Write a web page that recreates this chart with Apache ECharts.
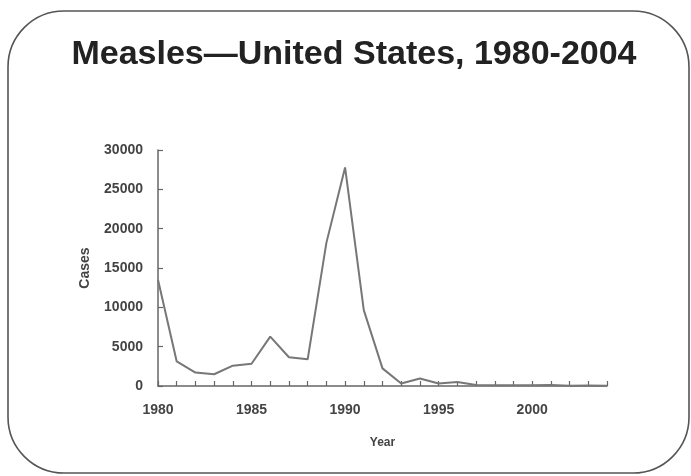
<!DOCTYPE html>
<html>
<head>
<meta charset="utf-8">
<script src="https://cdn.jsdelivr.net/npm/echarts@6/dist/echarts.min.js"></script>
<style>
html,body{margin:0;padding:0;background:#fff;}
#chart{width:691px;height:476px;}
</style>
</head>
<body>
<div id="chart"></div>
<script>
var years = ['1980','1981','1982','1983','1984','1985','1986','1987','1988','1989','1990','1991','1992','1993','1994','1995','1996','1997','1998','1999','2000','2001','2002','2003','2004'];
var cases = [13506,3124,1714,1497,2587,2822,6282,3655,3396,18193,27786,9643,2237,312,963,309,508,138,100,100,86,116,44,56,37];
var yTicks = [0,5000,10000,15000,20000,25000,30000];

var chart = echarts.init(document.getElementById('chart'));
var labelFont = {fontFamily:'Liberation Sans, Arial, sans-serif', fontWeight:'bold', color:'#444'};
chart.setOption({
  animation:false,
  backgroundColor:'#fff',
  title:{
    text:'Measles\u2014United States, 1980-2004',
    left:349, top:33, textAlign:'center',
    textStyle:{fontFamily:'Liberation Sans, Arial, sans-serif', fontWeight:'bold', fontSize:34, color:'#222'}
  },
  graphic:[{
    type:'rect', z:-1,
    shape:{x:8, y:11, width:681, height:462, r:56},
    style:{fill:'none', stroke:'#555', lineWidth:1.6}
  }],
  grid:{left:158, right:84, top:150, bottom:90, containLabel:false},
  xAxis:{
    type:'category', data:years, boundaryGap:false,
    name:'Year', nameLocation:'middle', nameGap:51,
    nameTextStyle:Object.assign({fontSize:12}, labelFont),
    axisLine:{lineStyle:{color:'#666', width:1.5}},
    axisTick:{inside:true, length:5, interval:0, lineStyle:{color:'#666', width:1.2}},
    axisLabel:Object.assign({interval:4, fontSize:14, margin:17}, labelFont),
    splitLine:{show:false}
  },
  yAxis:{
    type:'value', min:yTicks[0], max:yTicks[yTicks.length-1], interval:5000,
    name:'Cases', nameLocation:'middle', nameGap:66, nameRotate:90,
    nameTextStyle:Object.assign({fontSize:14}, labelFont),
    axisLine:{show:true, lineStyle:{color:'#666', width:1.5}},
    axisTick:{show:true, inside:true, length:5, lineStyle:{color:'#666', width:1.2}},
    axisLabel:Object.assign({fontSize:14, margin:15, formatter:function(v){return String(v);}}, labelFont),
    splitLine:{show:false}
  },
  series:[{
    type:'line', data:cases, symbol:'none',
    lineStyle:{color:'#777', width:2}
  }]
});
</script>
</body>
</html>
